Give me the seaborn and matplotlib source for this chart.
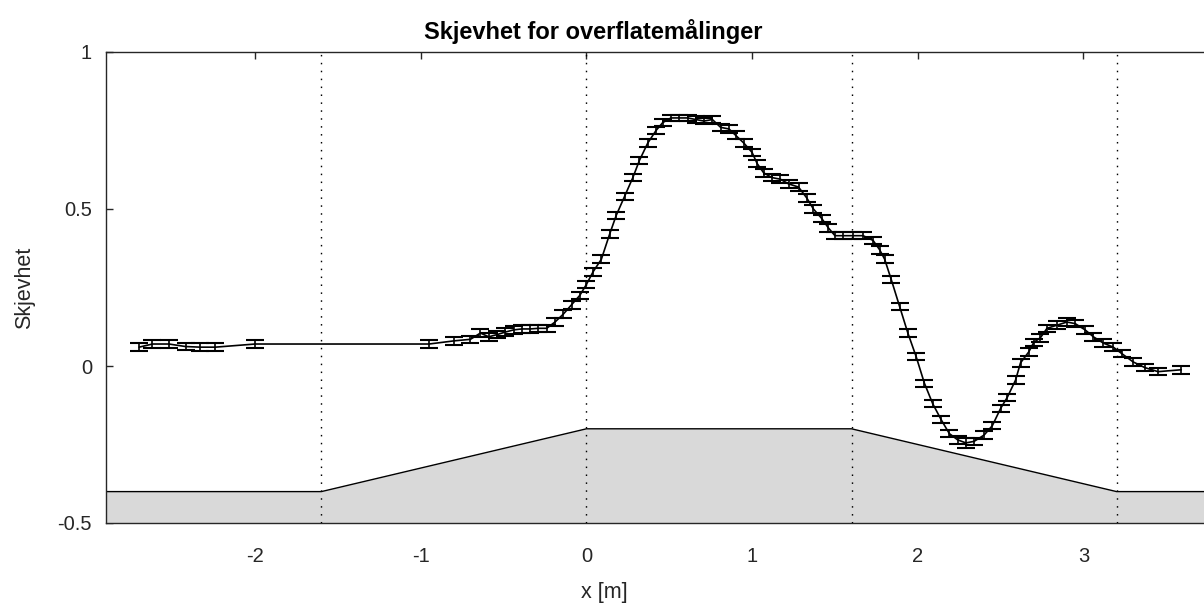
import numpy as np
import pandas as pd
import matplotlib
matplotlib.use("Agg")
import matplotlib.pyplot as plt
import seaborn as sns

# Surface skewness measurements along the flume (x in metres)
x_pos = [-2.70, -2.62, -2.52, -2.42, -2.33, -2.24, -2.00, -0.95,
         -0.80, -0.70, -0.64, -0.59, -0.54, -0.49, -0.44, -0.39, -0.34, -0.29,
         -0.24, -0.19, -0.14, -0.09, -0.04, 0.00, 0.04, 0.09, 0.14, 0.18,
         0.23, 0.28, 0.32, 0.37, 0.42, 0.46, 0.51, 0.56, 0.61, 0.66,
         0.71, 0.76, 0.81, 0.86, 0.90, 0.95, 1.00, 1.03, 1.07, 1.12,
         1.17, 1.22, 1.28, 1.33, 1.37, 1.42, 1.46, 1.50, 1.55, 1.61,
         1.67, 1.73, 1.77, 1.80, 1.84, 1.89, 1.94, 1.99, 2.04, 2.09,
         2.14, 2.19, 2.24, 2.29, 2.34, 2.40, 2.45, 2.50, 2.54, 2.59,
         2.62, 2.67, 2.70, 2.74, 2.78, 2.84, 2.90, 2.95, 3.01, 3.06,
         3.12, 3.18, 3.23, 3.30, 3.37, 3.45, 3.59]
skewness = [0.060, 0.070, 0.070, 0.062, 0.060, 0.060, 0.070, 0.070,
            0.080, 0.085, 0.105, 0.093, 0.100, 0.108, 0.115, 0.118, 0.118, 0.120,
            0.120, 0.140, 0.165, 0.195, 0.225, 0.260, 0.300, 0.340, 0.420, 0.480,
            0.540, 0.600, 0.655, 0.710, 0.750, 0.775, 0.790, 0.790, 0.790, 0.785,
            0.780, 0.785, 0.760, 0.755, 0.735, 0.710, 0.680, 0.645, 0.615, 0.600,
            0.595, 0.580, 0.570, 0.535, 0.500, 0.470, 0.440, 0.415, 0.415, 0.415,
            0.415, 0.400, 0.370, 0.340, 0.275, 0.190, 0.105, 0.030, -0.055, -0.120,
            -0.170, -0.215, -0.235, -0.245, -0.240, -0.220, -0.190, -0.135, -0.100, -0.045,
            0.010, 0.045, 0.075, 0.090, 0.120, 0.130, 0.140, 0.135, 0.115, 0.093,
            0.073, 0.060, 0.040, 0.013, -0.005, -0.018, -0.012]
skew_err = [0.012, 0.013, 0.013, 0.012, 0.012, 0.012, 0.013, 0.012,
            0.012, 0.012, 0.013, 0.012, 0.012, 0.012, 0.012, 0.012, 0.012, 0.012,
            0.012, 0.012, 0.012, 0.012, 0.012, 0.012, 0.012, 0.012, 0.012, 0.012,
            0.012, 0.012, 0.012, 0.012, 0.012, 0.012, 0.010, 0.010, 0.010, 0.010,
            0.010, 0.010, 0.012, 0.012, 0.012, 0.012, 0.012, 0.012, 0.012, 0.012,
            0.012, 0.012, 0.012, 0.012, 0.012, 0.012, 0.012, 0.012, 0.012, 0.012,
            0.012, 0.012, 0.012, 0.012, 0.012, 0.012, 0.012, 0.012, 0.012, 0.012,
            0.012, 0.012, 0.012, 0.016, 0.012, 0.012, 0.012, 0.012, 0.012, 0.012,
            0.012, 0.012, 0.012, 0.012, 0.012, 0.012, 0.012, 0.012, 0.012, 0.012,
            0.012, 0.012, 0.012, 0.012, 0.012, 0.012, 0.012]

# Bottom profile: flat, up-slope, crest, down-slope, flat
bed_x = [-2.9, -1.6, 0.0, 1.6, 3.2, 3.8]
bed_y = [-0.4, -0.4, -0.2, -0.2, -0.4, -0.4]
section_edges = [-1.6, 0.0, 1.6, 3.2]

x_ticks = [-2, -1, 0, 1, 2, 3]
y_ticks = [-0.5, 0, 0.5, 1]
y_tick_labels = ["-0.5", "0", "0.5", "1"]

df = pd.DataFrame({"x": x_pos, "skew": skewness, "err": skew_err})

sns.set_theme(style="ticks")
plt.rcParams["font.family"] = ["Liberation Sans", "DejaVu Sans"]
plt.rcParams["axes.unicode_minus"] = False

dark = "#262626"
fig = plt.figure(figsize=(12.04, 6.09), dpi=100)
ax = fig.add_axes([106 / 1204, 86 / 609, 1110 / 1204, 471 / 609])

# bottom profile
ax.fill_between(bed_x, bed_y, -0.5, color="#d9d9d9", lw=0, zorder=1)
ax.plot(bed_x, bed_y, color="black", lw=1.0, zorder=2)

# section boundaries
for xe in section_edges:
    ax.axvline(xe, color="black", lw=1.0, linestyle=(0, (1.1, 4.6)), zorder=3)

# measured skewness with error bars
sns.lineplot(data=df, x="x", y="skew", sort=False, estimator=None,
             color="black", lw=1.2, ax=ax, zorder=4)
ax.errorbar(df["x"], df["skew"], yerr=df["err"], fmt="none", ecolor="black",
            elinewidth=1.2, capsize=6.3, capthick=1.5, zorder=5)

ax.set_xlim(-2.9, 3.8)
ax.set_ylim(-0.5, 1.0)
ax.set_xticks(x_ticks)
ax.set_xticklabels([str(t) for t in x_ticks])
ax.set_yticks(y_ticks)
ax.set_yticklabels(y_tick_labels)

ax.tick_params(direction="in", length=5, width=1.0, color=dark,
               labelcolor=dark, labelsize=14.5, top=True, right=True)
ax.tick_params(axis="x", pad=17)
ax.tick_params(axis="y", pad=10)
for sp in ax.spines.values():
    sp.set_color(dark)
    sp.set_linewidth(1.0)
    sp.set_visible(True)

ax.set_xlabel("x [m]", fontsize=15.5, color=dark, labelpad=12, x=0.4486)
ax.set_ylabel("Skjevhet", fontsize=15.5, color=dark, labelpad=16)
ax.set_title("Skjevhet for overflatemålinger", fontsize=17, fontweight="bold",
             color="black", pad=9, x=0.4387)

fig.savefig("out.png", dpi=100)
